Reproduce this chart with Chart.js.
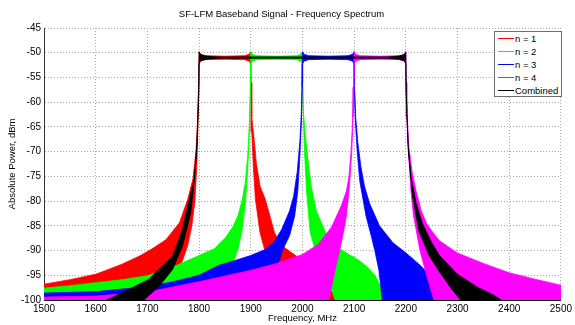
<!DOCTYPE html>
<html>
<head>
<meta charset="utf-8">
<script src="https://cdn.jsdelivr.net/npm/chart.js@4.4.1/dist/chart.umd.min.js"></script>
<style>
  body { margin: 0; background: #fff; }
  #wrap { position: relative; width: 575px; height: 325px; }
  #legend {
    position: absolute; left: 494px; top: 31px; width: 66px; height: 64px;
    border: 1px solid #6e6e6e; background: #fff;
    font: 9.5px "Liberation Sans", Arial, sans-serif; color: #000;
  }
  .row { position: absolute; left: 0; width: 66px; height: 13px; line-height: 13px; }
  .row i { position: absolute; left: 3px; top: 6px; width: 16px; height: 1px; }
  .row span { position: absolute; left: 20px; top: 0; white-space: nowrap; }
</style>
</head>
<body>
<div id="wrap">
  <canvas id="chart" width="575" height="325"></canvas>
  <div id="legend"></div>
</div>
<script>
// tick labels
const xTicks = [1500, 1600, 1700, 1800, 1900, 2000, 2100, 2200, 2300, 2400, 2500];
const yTicks = [-45, -50, -55, -60, -65, -70, -75, -80, -85, -90, -95, -100];

const seriesNames = ['n = 1', 'n = 2', 'n = 3', 'n = 4', 'Combined'];
const seriesColors = ['#ff0000', '#00ff00', '#0000ff', '#ff00ff', '#000000'];

// spectrum envelopes [MHz, dBm]: upper edge and lower edge of each noisy band
const n1Upper = [[1500,-96.8],[1550,-95.9],[1600,-94.8],[1650,-92.8],[1685,-91.1],[1710,-89.6],[1736,-87.8],[1762,-84.4],[1778,-79.7],[1788,-75.6],[1794,-70],[1797.5,-63],[1799.5,-55.5],
  [1800,-49.8],[1803,-50.3],[1812,-50.6],[1850,-50.7],[1888,-50.6],[1897,-50.3],[1900,-49.8],
  [1900.5,-56],[1902,-63],[1906,-67],[1911,-72.5],[1918,-77],[1928,-79.6],[1937,-83],[1946,-86.4],[1960,-89],[1980,-90.5],[2000,-92],[2030,-95.5],[2050,-97.7],[2065,-99],[2080,-100.5]];
const n1Lower = [[1500,-100.5],[1735,-100.5],[1748,-97],[1757,-94.5],[1768,-92],[1778,-89],[1786,-85],[1792,-80],[1796,-72],[1799.5,-58],
  [1800,-52.3],[1803,-51.7],[1812,-51.4],[1850,-51.3],[1888,-51.4],[1897,-51.7],[1900,-52.3],
  [1900.5,-58],[1902,-66],[1905,-73],[1909,-79.6],[1918,-86.4],[1930,-91],[1950,-100.5],[2080,-100.5]];

const n2Upper = [[1500,-97.6],[1550,-97.1],[1600,-96.5],[1650,-95.9],[1700,-95.1],[1750,-93.3],[1800,-91],[1830,-89.6],[1850,-87.5],[1865,-85.3],[1875,-83],[1883,-80],[1889,-76.5],[1894,-71],[1897.5,-64],[1899.5,-55.5],
  [1900,-49.8],[1903,-50.3],[1912,-50.6],[1950,-50.7],[1988,-50.6],[1997,-50.3],[2000,-49.8],
  [2000.5,-56],[2002,-62],[2005,-66],[2010,-71],[2017,-77],[2027,-82],[2045,-86.4],[2060,-88.5],[2072,-89.6],[2090,-90.8],[2110,-92],[2125,-93.3],[2140,-95],[2150,-97],[2160,-100.5]];
const n2Lower = [[1500,-100.5],[1840,-100.5],[1852,-96.5],[1866,-92.5],[1876,-89.5],[1883,-86],[1890,-80],[1894.5,-73],[1898.2,-64],[1899.5,-57],
  [1900,-52.3],[1903,-51.7],[1912,-51.4],[1950,-51.3],[1988,-51.4],[1997,-51.7],[2000,-52.3],
  [2000.5,-57],[2002,-64],[2004,-70],[2008,-78],[2015,-86.4],[2025,-90],[2040,-95],[2055,-97.5],[2065,-100.5],[2160,-100.5]];

const n3Upper = [[1500,-98.6],[1600,-98.3],[1700,-97.3],[1750,-96.3],[1800,-95],[1838,-93],[1870,-92],[1900,-91],[1928,-89.8],[1945,-88.3],[1960,-85.7],[1975,-82],[1983,-79],[1990,-74],[1995,-68],[1998,-62],[1999.5,-55.5],
  [2000,-49.8],[2003,-50.3],[2012,-50.6],[2050,-50.7],[2088,-50.6],[2097,-50.3],[2100,-49.8],
  [2100.5,-56],[2103,-63],[2107,-68],[2113,-73],[2120,-77],[2130,-80.5],[2149,-85],[2175,-88.4],[2198,-90.3],[2215,-91.8],[2228,-93],[2240,-94.3],[2250,-96],[2255,-97.5],[2258,-99],[2261,-100.5]];
const n3Lower = [[1500,-100.5],[1900,-100.5],[1952,-93],[1963,-89.6],[1975,-87],[1985,-83],[1991,-78],[1995,-71],[1998,-64],[1999.5,-57],
  [2000,-52.3],[2003,-51.7],[2012,-51.4],[2050,-51.3],[2088,-51.4],[2097,-51.7],[2100,-52.3],
  [2100.5,-57],[2102,-63],[2106,-70],[2111,-76],[2123,-83],[2133,-87],[2140,-90],[2148,-94],[2155,-100.5],[2261,-100.5]];

const n4Upper = [[1500,-99.4],[1600,-99.2],[1700,-98.4],[1800,-96.3],[1900,-94],[1950,-92.6],[2000,-90.8],[2030,-88.8],[2056,-85.3],[2075,-81],[2085,-78],[2090,-75],[2094,-70],[2097,-64],[2099.5,-55.5],
  [2100,-49.8],[2103,-50.3],[2112,-50.6],[2150,-50.7],[2188,-50.6],[2197,-50.3],[2200,-49.8],
  [2200.5,-56],[2202,-62],[2206,-69],[2212,-74],[2220,-78],[2230,-82],[2240,-84.5],[2250,-86],[2265,-88],[2300,-90.5],[2350,-92.6],[2400,-94.5],[2450,-95.8],[2500,-97]];
const n4Lower = [[1500,-100.5],[2050,-100.5],[2058,-96.5],[2065,-93],[2072,-90],[2078,-87],[2085,-83],[2091,-77],[2095.5,-70],[2098,-63],[2099.5,-57],
  [2100,-52.3],[2103,-51.7],[2112,-51.4],[2150,-51.3],[2188,-51.4],[2197,-51.7],[2200,-52.3],
  [2200.5,-57],[2202,-63],[2205,-70],[2210,-78],[2215,-83],[2227,-89.8],[2240,-95],[2250,-98.5],[2256,-100.5],[2500,-100.5]];

const combUpper = [[1611,-100.5],[1650,-98.6],[1703,-95.8],[1749,-91.1],[1768,-85.7],[1781,-79.7],[1791,-75.6],[1796,-68],[1799.5,-56],
  [1800,-49.8],[1803,-50.4],[1815,-50.7],[1835,-50.85],[2165,-50.85],[2185,-50.7],[2197,-50.4],[2200,-49.8],
  [2200.5,-56],[2204,-68],[2210,-75],[2220,-80.5],[2232,-84.5],[2248,-88],[2265,-91],[2300,-94.8],[2340,-97.5],[2370,-99],[2392,-100.5]];
const combLower = [[1688,-100.5],[1723,-97.2],[1749,-93.8],[1768,-89.1],[1784,-82.3],[1791,-75.5],[1796,-69],[1799.5,-58],
  [1800,-52.2],[1803,-51.6],[1815,-51.3],[1835,-51.1],[2165,-51.1],[2185,-51.3],[2197,-51.6],[2200,-52.2],
  [2200.5,-58],[2205,-70],[2213,-79],[2225,-86],[2245,-91],[2265,-94.3],[2290,-98],[2310,-100.5]];

const uppers = [n1Upper, n2Upper, n3Upper, n4Upper, combUpper];
const lowers = [n1Lower, n2Lower, n3Lower, n4Lower, combLower];

// closed outline: upper edge left->right, then lower edge back
function toShape(upper, lower) {
  return upper.concat(lower.slice().reverse()).map(([x, y]) => ({ x, y }));
}

const font = { family: '"Liberation Sans", Arial, sans-serif', size: 10 };
const smallFont = { family: '"Liberation Sans", Arial, sans-serif', size: 9.5 };

new Chart(document.getElementById('chart'), {
  type: 'line',
  data: {
    datasets: seriesNames.map((name, i) => ({
      label: name,
      data: toShape(uppers[i], lowers[i]),
      borderColor: seriesColors[i],
      backgroundColor: seriesColors[i],
      borderWidth: 0.8,
      pointRadius: 0,
      tension: 0,
      fill: 'shape',
      clip: 0,
      // n = 1 at the bottom, combined on top
      order: seriesNames.length - i
    }))
  },
  options: {
    responsive: false,
    animation: false,
    events: [],
    layout: { padding: { left: 0, right: 12, top: 0, bottom: 0 } },
    plugins: {
      legend: { display: false },
      tooltip: { enabled: false },
      title: {
        display: true,
        text: 'SF-LFM Baseband Signal - Frequency Spectrum',
        color: '#000',
        font: { ...smallFont, weight: 'normal' },
        padding: { top: 9, bottom: 7.6 }
      }
    },
    scales: {
      x: {
        type: 'linear',
        min: 1500,
        max: 2500,
        afterBuildTicks: s => { s.ticks = xTicks.map(v => ({ value: v })); },
        afterFit: s => { s.height = 25; },
        grid: { color: '#a8a8a8', lineWidth: 1, drawTicks: false },
        border: { display: true, color: '#000', width: 1, dash: [1, 2] },
        ticks: { padding: 3, color: '#000', font, maxRotation: 0, autoSkip: false, callback: v => String(v) },
        title: { display: true, text: 'Frequency, MHz', color: '#000', font: smallFont, padding: { top: 0, bottom: 1 } }
      },
      y: {
        type: 'linear',
        min: -100,
        max: -45,
        afterBuildTicks: s => { s.ticks = yTicks.map(v => ({ value: v })); },
        afterFit: s => { s.width = 44; },
        grid: { color: '#a8a8a8', lineWidth: 1, drawTicks: false },
        border: { display: true, color: '#333', width: 1, dash: [1, 2] },
        ticks: { padding: 3, color: '#000', font, autoSkip: false, callback: v => String(v) },
        title: { display: true, text: 'Absolute Power, dBm', color: '#000', font: smallFont, padding: { top: 7, bottom: 0 } }
      }
    }
  }
});

// legend box in the top right corner
const legend = document.getElementById('legend');
seriesNames.forEach((name, i) => {
  const row = document.createElement('div');
  row.className = 'row';
  row.style.top = Math.round(i * 12.9) + 'px';
  row.innerHTML = '<i style="background:' + seriesColors[i] + '"></i><span>' + name + '</span>';
  legend.appendChild(row);
});
</script>
</body>
</html>
